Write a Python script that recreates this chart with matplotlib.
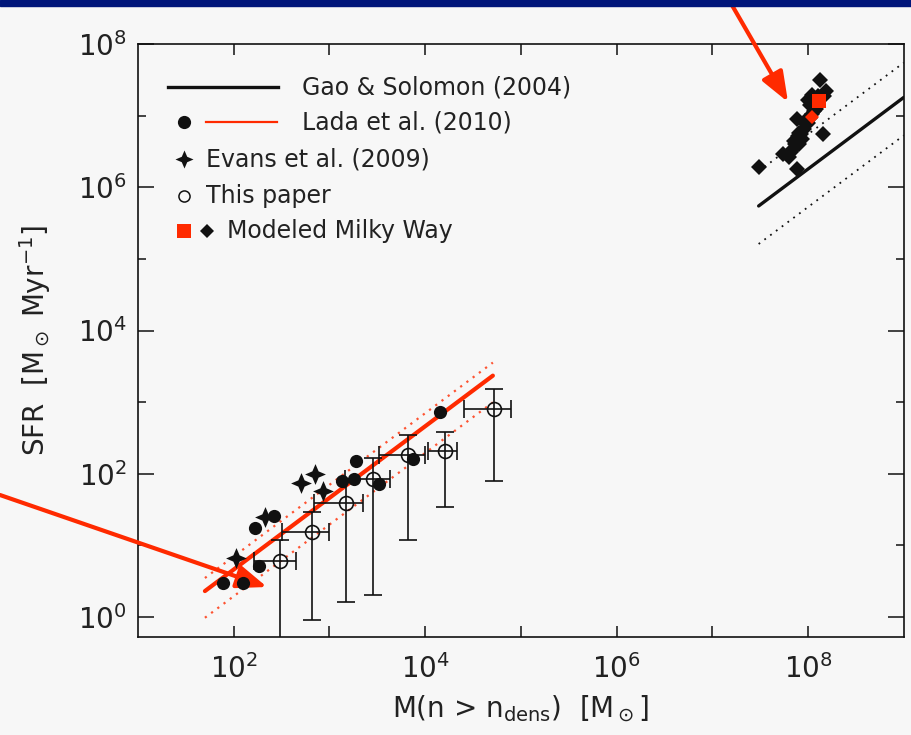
import numpy as np
import matplotlib
matplotlib.use("Agg")
import matplotlib.pyplot as plt
from matplotlib.path import Path
from matplotlib.ticker import FixedLocator, FixedFormatter, NullLocator

# Lada et al. (2010) clouds (log10 values)
lada_logm = [1.89, 2.10, 2.26, 2.22, 2.42, 3.13, 3.28, 3.26, 3.52, 3.87, 4.15]
lada_logsfr = [0.48, 0.48, 0.71, 1.24, 1.41, 1.90, 2.18, 1.93, 1.86, 2.20, 2.86]

# Evans et al. (2009)
evans_logm = [2.02, 2.33, 2.70, 2.85, 2.93]
evans_logsfr = [0.82, 1.39, 1.87, 1.99, 1.76]

# this paper (linear values with symmetric errors)
paper_m = [304, 661, 1476, 2864, 6561, 16070, 52200]
paper_merr = [140, 340, 780, 1420, 3300, 5300, 26500]
paper_sfr = [6.1, 15.2, 39.3, 84, 182, 209, 794]
paper_sfrerr = [5.8, 14.3, 37.7, 82, 170, 175, 714]

# modeled Milky Way
mw_logm = [7.80, 7.82, 7.84, 7.86, 7.85, 7.88, 7.90, 7.91, 7.93, 7.96, 7.98, 7.97,
           8.00, 8.02, 8.04, 8.06, 8.08, 8.02, 8.07, 8.10, 8.17, 8.19, 8.04, 7.91, 7.94,
           8.13, 7.89, 8.16, 7.74, 7.49, 7.89, 8.00]
mw_logsfr = [6.43, 6.50, 6.54, 6.60, 6.65, 6.64, 6.71, 6.76, 6.74, 6.82, 6.88, 6.93,
             6.90, 6.97, 7.03, 7.07, 7.10, 7.15, 7.21, 7.28, 7.27, 7.35, 7.29, 6.61, 6.68,
             7.50, 6.96, 6.75, 6.47, 6.28, 6.26, 7.22]
mw_red_sq = [8.12, 7.21]
mw_red_dia = [8.04, 6.98]

# SFR = coef * M  (per Myr)
lada_coef, lada_hi, lada_lo = 0.046, 0.07, 0.0195
lada_mrange = [50, 5.1e4]
gs_coef, gs_hi, gs_lo = 0.018, 0.055, 0.0053
gs_mrange = [3.05e7, 1e9]

RED = '#ff2a00'
INK = '#111111'
BG = '#f7f7f7'

plt.rcParams['font.family'] = 'DejaVu Sans'
plt.rcParams['mathtext.default'] = 'regular'

fig = plt.figure(figsize=(9.11, 7.35), dpi=100, facecolor=BG)
ax = fig.add_axes([0.1515, 0.1333, 0.8405, 0.8067])
ax.set_facecolor(BG)

# top banner
fig.patches.append(plt.Rectangle((0, 1 - 6 / 735), 1, 6 / 735, transform=fig.transFigure,
                                 color='#00167a', zorder=0))

# 4-point star
star = Path([(0, 1), (0.3, 0.3), (1, 0), (0.3, -0.3), (0, -1), (-0.3, -0.3),
             (-1, 0), (-0.3, 0.3), (0, 1)],
            [Path.MOVETO] + [Path.LINETO] * 7 + [Path.CLOSEPOLY])

# relations
lm = np.array(lada_mrange)
ax.plot(lm, lada_coef * lm, color=RED, lw=3, zorder=2, solid_capstyle='round')
ax.plot(lm, lada_hi * lm, color=RED, lw=1.6, dashes=(1, 2.5), zorder=2, alpha=0.8)
ax.plot(lm, lada_lo * lm, color=RED, lw=1.6, dashes=(1, 2.5), zorder=2, alpha=0.8)
gm = np.array(gs_mrange)
ax.plot(gm, gs_coef * gm, color=INK, lw=2.4, zorder=2, solid_capstyle='round')
ax.plot(gm, gs_hi * gm, color=INK, lw=1.3, dashes=(1, 3), zorder=2)
ax.plot(gm, gs_lo * gm, color=INK, lw=1.3, dashes=(1, 3), zorder=2)

# data
ax.plot(10 ** np.array(lada_logm), 10 ** np.array(lada_logsfr), 'o', color=INK, ms=9.5,
        mew=0, zorder=4)
ax.plot(10 ** np.array(evans_logm), 10 ** np.array(evans_logsfr), ls='none', marker=star,
        color=INK, ms=15, mew=0, zorder=4)
ax.errorbar(paper_m, paper_sfr, xerr=paper_merr, yerr=paper_sfrerr, fmt='o', mfc='none',
            mec=INK, ms=10, mew=1.2, ecolor=INK, elinewidth=1.2, capsize=6.5, capthick=1.2,
            zorder=3)
ax.plot(10 ** np.array(mw_logm), 10 ** np.array(mw_logsfr), 'D', color=INK, ms=8,
        mew=0, zorder=4)
ax.plot(10 ** mw_red_sq[0], 10 ** mw_red_sq[1], 's', color=RED, ms=10, mew=0, zorder=5)
ax.plot(10 ** mw_red_dia[0], 10 ** mw_red_dia[1], 'D', color=RED, ms=7.5, mew=0, zorder=5)

ax.set_xscale('log')
ax.set_yscale('log')
ax.set_xlim(10, 1e9)
ax.set_ylim(10 ** -0.28, 1e8)

xt = [10.0 ** k for k in range(2, 9)]
ax.xaxis.set_major_locator(FixedLocator(xt))
ax.xaxis.set_major_formatter(FixedFormatter(
    [r'$10^{%d}$' % k if k % 2 == 0 else '' for k in range(2, 9)]))
ax.xaxis.set_minor_locator(NullLocator())
ax.yaxis.set_major_locator(FixedLocator([10.0 ** k for k in range(0, 9, 2)]))
ax.yaxis.set_major_formatter(FixedFormatter([r'$10^{%d}$' % k for k in range(0, 9, 2)]))
ax.yaxis.set_minor_locator(FixedLocator([10.0 ** k for k in range(1, 9, 2)]))
ax.yaxis.set_minor_formatter(FixedFormatter([''] * 4))

ax.tick_params(axis='x', which='major', direction='in', length=8, width=1.1, top=True,
               labelsize=20, pad=12, labelcolor='#222222', color=INK)
ax.tick_params(axis='y', which='major', direction='in', length=11.5, width=1.1, right=True,
               labelsize=20, pad=8, labelcolor='#222222', color=INK)
ax.tick_params(axis='y', which='minor', direction='in', length=5.8, width=1.1, right=True,
               color=INK)
for s in ax.spines.values():
    s.set_linewidth(1.2)
    s.set_color(INK)

ax.set_xlabel(r'M(n > n$_{\rm dens}$)  [M$_\odot$]', fontsize=20, color='#222222')
ax.xaxis.set_label_coords(0.5, -0.095)
ax.set_ylabel(r'SFR  [M$_\odot$ Myr$^{-1}$]', fontsize=20, color='#222222')
ax.yaxis.set_label_coords(-0.111, 0.5)


# legend, drawn by hand in pixel-like axes positions
def axp(px, py):
    return ((px - 138) / 766.0, (637 - py) / 593.0)


tr = ax.transAxes
lkw = dict(fontsize=17, color='#222222', va='center', ha='left', transform=tr)
x0, y0 = axp(168, 87)
x1, _ = axp(278, 87)
ax.plot([x0, x1], [y0, y0], color=INK, lw=2.4, transform=tr)
ax.text(*axp(302, 87), 'Gao & Solomon (2004)', **lkw)
ax.plot(*axp(184, 122), 'o', color=INK, ms=9.5, mew=0, transform=tr)
x0, y0 = axp(206, 122)
x1, _ = axp(277, 122)
ax.plot([x0, x1], [y0, y0], color=RED, lw=1.6, transform=tr)
ax.text(*axp(302, 122), 'Lada et al. (2010)', **lkw)
ax.plot(*axp(184, 159), ls='none', marker=star, color=INK, ms=13, mew=0, transform=tr)
ax.text(*axp(206, 159), 'Evans et al. (2009)', **lkw)
ax.plot(*axp(184, 196), 'o', mfc='none', mec=INK, ms=8, mew=1.1, transform=tr)
ax.text(*axp(206, 196), 'This paper', **lkw)
ax.plot(*axp(184, 231), 's', color=RED, ms=10, mew=0, transform=tr)
ax.plot(*axp(207, 231), 'D', color=INK, ms=7, mew=0, transform=tr)
ax.text(*axp(227, 231), 'Modeled Milky Way', **lkw)

# red pointer arrows
aprops = dict(arrowstyle='-|>,head_length=1.3,head_width=0.5', lw=3, color=RED,
              mutation_scale=14, shrinkA=0, shrinkB=0)
ax.annotate('', xy=(267 / 911, 1 - 587 / 735), xycoords='figure fraction',
            xytext=(0.0, 1 - 495 / 735), textcoords='figure fraction',
            arrowprops=aprops, annotation_clip=False)
ax.annotate('', xy=(788 / 911, 1 - 102 / 735), xycoords='figure fraction',
            xytext=(729 / 911, 1.0), textcoords='figure fraction',
            arrowprops=aprops, annotation_clip=False)

fig.savefig('out.png', dpi=100, facecolor=BG)
